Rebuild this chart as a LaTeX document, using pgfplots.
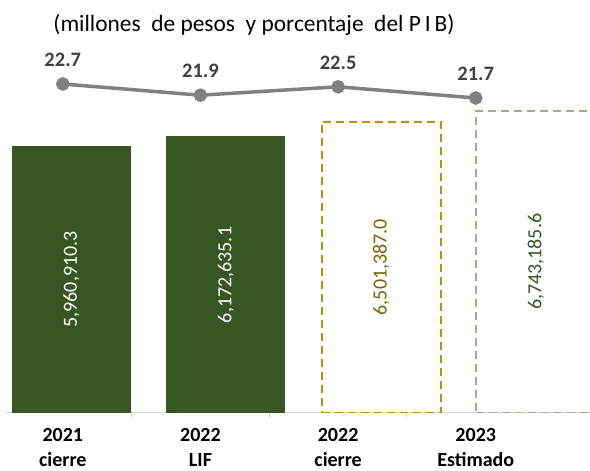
\documentclass[border=0pt]{standalone}
\usepackage{pgfplots}
\pgfplotsset{compat=1.18}
\usepackage{fontspec}
\setmainfont{Carlito}
\definecolor{barg}{HTML}{375623}
\definecolor{gold}{HTML}{BF9000}
\definecolor{goldtxt}{HTML}{7F6000}
\definecolor{sage}{HTML}{97B28A}
\definecolor{linegray}{HTML}{808080}
\definecolor{axgray}{HTML}{D9D9D9}
\definecolor{lblgray}{HTML}{404040}
\begin{document}
\begin{tikzpicture}
\useasboundingbox (0,0) rectangle (590pt,471pt);
\begin{axis}[
  at={(5pt,58pt)}, anchor=south west, scale only axis,
  width=585pt, height=413pt,
  xmin=-0.42, xmax=3.83, ymin=0, ymax=9218160,
  axis y line=none, axis x line*=bottom,
  x axis line style={draw=axgray, line width=1pt, -},
  xtick={0,1,2,3},
  xticklabels={{2021\\cierre},{2022\\LIF},{2022\\cierre},{2023\\Estimado}},
  major tick length=0pt,
  extra x ticks={0.5,1.5,2.5}, extra x tick labels={},
  extra x tick style={major tick length=5pt, tick align=outside, tick style={draw=axgray, line width=1pt}},
  xticklabel style={font=\fontsize{20}{25}\selectfont\bfseries, align=center, text=black, yshift=-12pt},
  title={(millones\ \ de pesos\ \ y porcentaje\ \ del P\,I\,B)},
  title style={at={(rel axis cs:0.4256,0.924)}, anchor=center, font=\fontsize{23.4}{23.4}\selectfont, text=black},
  /pgf/number format/assume math mode=true,
  nodes near coords={\pgfmathprintnumber[fixed, precision=1, fixed zerofill, 1000 sep={,}, assume math mode=true]{\pgfplotspointmeta}},
  point meta=y,
]
\addplot[ybar, bar width=0.865, bar shift=0pt, fill=barg, draw=none,
  every node near coord/.append style={yshift=-133.5pt, rotate=90, anchor=center, text=white, font=\fontsize{20}{20}\selectfont}]
  coordinates {(0.062,5960910.3)};
\addplot[ybar, bar width=0.865, bar shift=0pt, fill=barg, draw=none,
  every node near coord/.append style={yshift=-138.5pt, rotate=90, anchor=center, text=white, font=\fontsize{20}{20}\selectfont}]
  coordinates {(1.185,6172635.1)};
\addplot[ybar, bar width=0.865, bar shift=0pt, fill=none, draw=gold, line width=2pt, dash pattern=on 8pt off 5pt,
  every node near coord/.append style={yshift=-145.5pt, rotate=90, anchor=center, text=goldtxt, font=\fontsize{20}{20}\selectfont}]
  coordinates {(2.313,6501387.0)};
\addplot[ybar, bar width=0.865, bar shift=0pt, fill=none, draw=sage, line width=2pt, dash pattern=on 8pt off 5pt,
  every node near coord/.append style={yshift=-151pt, rotate=90, anchor=center, text=barg, font=\fontsize{20}{20}\selectfont}]
  coordinates {(3.436,6743185.6)};
\end{axis}
\begin{axis}[
  at={(5pt,58pt)}, anchor=south west, scale only axis,
  width=585pt, height=413pt,
  xmin=-0.42, xmax=3.83, ymin=-0.8, ymax=28.7,
  hide axis, clip=false,
  /pgf/number format/assume math mode=true,
]
\addplot[linegray, line width=3.5pt, mark=*, mark size=5pt,
  mark options={fill=linegray, draw=none},
  nodes near coords={\pgfmathprintnumber[fixed, precision=1, fixed zerofill, assume math mode=true]{\pgfplotspointmeta}},
  point meta=y,
  every node near coord/.append style={anchor=center, yshift=24pt, text=lblgray, font=\fontsize{20.5}{20.5}\selectfont\bfseries}]
  coordinates {(0,22.7) (1,21.9) (2,22.5) (3,21.7)};
\end{axis}
\end{tikzpicture}
\end{document}
